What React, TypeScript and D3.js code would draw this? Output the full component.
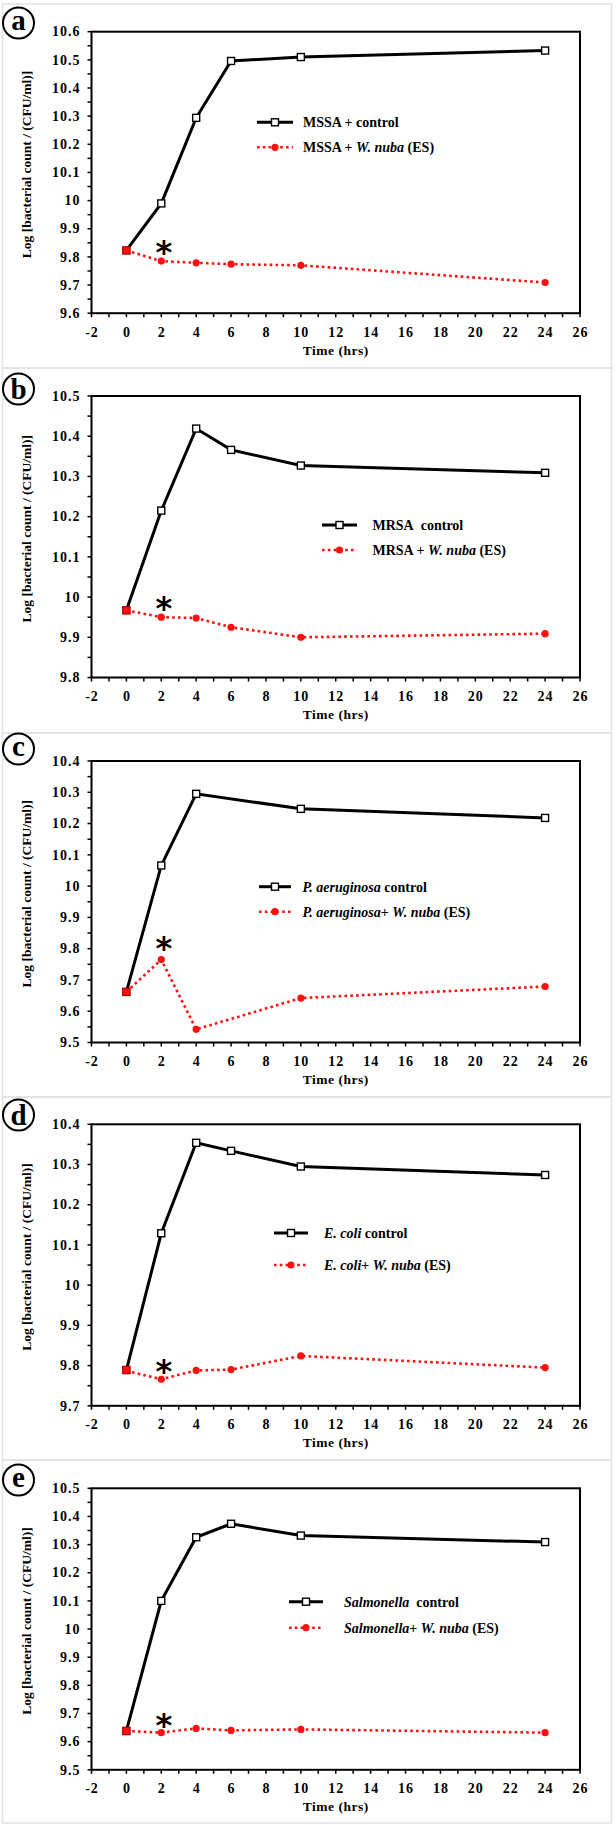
import React from "react";
import * as d3 from "d3";

// ---------- data ----------
const times6 = [0, 2, 4, 6, 10, 24];
const times5 = [0, 2, 4, 10, 24];

const mssaControl = [9.823, 9.99, 10.294, 10.496, 10.51, 10.533];
const mssaTreated = [9.823, 9.785, 9.779, 9.774, 9.77, 9.709];

const mrsaControl = [9.967, 10.215, 10.419, 10.366, 10.327, 10.309];
const mrsaTreated = [9.967, 9.95, 9.948, 9.925, 9.9, 9.909];

const paerControl = [9.662, 10.066, 10.295, 10.247, 10.218];
const paerTreated = [9.662, 9.765, 9.542, 9.642, 9.679];

const ecoliControl = [9.789, 10.129, 10.354, 10.334, 10.295, 10.274];
const ecoliTreated = [9.787, 9.766, 9.788, 9.79, 9.824, 9.795];

const salmControl = [9.638, 10.1, 10.326, 10.374, 10.332, 10.309];
const salmTreated = [9.638, 9.632, 9.647, 9.64, 9.6435, 9.632];

const yDomains: [number, number][] = [
  [9.6, 10.6],
  [9.8, 10.5],
  [9.5, 10.4],
  [9.7, 10.4],
  [9.5, 10.5],
];
const xDomain: [number, number] = [-2, 26];
const xTickLabels = [-2, 0, 2, 4, 6, 8, 10, 12, 14, 16, 18, 20, 22, 24, 26];
const panelLetters = ["a", "b", "c", "d", "e"];
const asteriskValues = [9.8425, 9.992, 9.826, 9.806, 9.687];
const asteriskTime = 2.15;

type Seg = [string, boolean];
const legendControl: Seg[][] = [
  [["MSSA + control", false]],
  [["MRSA\u00a0\u00a0control", false]],
  [["P. aeruginosa", true], [" control", false]],
  [["E. coli", true], [" control", false]],
  [["Salmonella", true], ["\u00a0 control", false]],
];
const legendTreated: Seg[][] = [
  [["MSSA + ", false], ["W. nuba", true], [" (ES)", false]],
  [["MRSA + ", false], ["W. nuba", true], [" (ES)", false]],
  [["P. aeruginosa", true], ["+ ", false], ["W. nuba", true], [" (ES)", false]],
  [["E. coli", true], ["+ ", false], ["W. nuba", true], [" (ES)", false]],
  [["Salmonella", true], ["+ ", false], ["W. nuba", true], [" (ES)", false]],
];

const seriesTimes = [times6, times6, times5, times6, times6];
const controls = [mssaControl, mrsaControl, paerControl, ecoliControl, salmControl];
const treated = [mssaTreated, mrsaTreated, paerTreated, ecoliTreated, salmTreated];

// ---------- layout ----------
const W = 616;
const H = 1825;
const X0 = 91.5;
const X1 = 580;
const PLOT_H = 281.5;
const plotTops = [31.7, 396, 761, 1124.3, 1488.3];
const panelLines = [4, 368, 733, 1097, 1460, 1823];
const circleCY = [23, 389, 749, 1115, 1480];
const legendLayout = [
  { x1: 257, x2: 293, r1: 90.6, r2: 115.6, tx: 303 },
  { x1: 322, x2: 357, r1: 129, r2: 154, tx: 372.5 },
  { x1: 259, x2: 291, r1: 125.7, r2: 150.7, tx: 302.5 },
  { x1: 274, x2: 308, r1: 108.7, r2: 140.7, tx: 324 },
  { x1: 289, x2: 323, r1: 113.4, r2: 139.4, tx: 344 },
];

const SERIF = "'Liberation Serif', 'Times New Roman', serif";
const RED = "#ff1010";

function fmt(v: number) {
  return String(+v.toFixed(1));
}

function Panel({ i }: { i: number }) {
  const top = plotTops[i];
  const bottom = top + PLOT_H;
  const x = d3.scaleLinear().domain(xDomain).range([X0, X1]);
  const y = d3.scaleLinear().domain(yDomains[i]).range([bottom, top]);
  const [lo, hi] = yDomains[i];
  const nMinor = Math.round((hi - lo) / 0.05);
  const yMinor = d3.range(nMinor + 1).map((k) => lo + k * 0.05);
  const nMajor = Math.round((hi - lo) / 0.1);
  const yMajor = d3.range(nMajor + 1).map((k) => lo + k * 0.1);
  const xMinor = d3.range(xDomain[0], xDomain[1] + 1, 1);

  const t = seriesTimes[i];
  const ctrl = t.map((tt, k) => [tt, controls[i][k]] as [number, number]);
  const trt = t.map((tt, k) => [tt, treated[i][k]] as [number, number]);
  const line = d3
    .line<[number, number]>()
    .x((d) => x(d[0]))
    .y((d) => y(d[1]));

  const L = legendLayout[i];
  const lr1 = top + L.r1;
  const lr2 = top + L.r2;
  const letter = panelLetters[i];
  const tall = letter === "b" || letter === "d";
  const cy = circleCY[i];
  const midY = (top + bottom) / 2 - 8;

  const renderSegs = (segs: Seg[]) =>
    segs.map((s, k) => (
      <tspan key={k} fontStyle={s[1] ? "italic" : "normal"}>
        {s[0]}
      </tspan>
    ));

  return (
    <g>
      <rect
        x={2.5}
        y={panelLines[i]}
        width={609}
        height={panelLines[i + 1] - panelLines[i]}
        fill="none"
        stroke="#e2e2e2"
        strokeWidth={1.5}
      />
      {/* panel letter */}
      <circle cx={18.5} cy={cy} r={15.5} fill="white" stroke="black" strokeWidth={2} />
      <text
        x={18.5}
        y={cy + (tall ? 9.5 : 6.8)}
        textAnchor="middle"
        fontFamily={SERIF}
        fontWeight="bold"
        fontSize={29}
      >
        {letter}
      </text>

      {/* y ticks */}
      {yMinor.map((v, k) => (
        <line key={"ym" + k} x1={X0 - 4} x2={X0} y1={y(v)} y2={y(v)} stroke="black" strokeWidth={1.5} />
      ))}
      {yMajor.map((v, k) => (
        <text
          key={"yl" + k}
          x={80.5}
          y={y(v) + 4.7}
          textAnchor="end"
          fontFamily={SERIF}
          fontWeight="bold"
          fontSize={14}
          letterSpacing={1}
        >
          {fmt(v)}
        </text>
      ))}
      {/* x ticks */}
      {xMinor.map((v, k) => (
        <line key={"xm" + k} x1={x(v)} x2={x(v)} y1={bottom} y2={bottom + 4} stroke="black" strokeWidth={1.5} />
      ))}
      {xTickLabels.map((v, k) => (
        <text
          key={"xl" + k}
          x={x(v) + 0.5}
          y={bottom + 23.3}
          textAnchor="middle"
          fontFamily={SERIF}
          fontWeight="bold"
          fontSize={14}
          letterSpacing={1}
        >
          {v}
        </text>
      ))}
      <text
        x={(X0 + X1) / 2}
        y={bottom + 41.5}
        textAnchor="middle"
        fontFamily={SERIF}
        fontWeight="bold"
        fontSize={13.5}
        letterSpacing={0.5}
      >
        Time (hrs)
      </text>
      <text
        transform={`translate(31,${midY}) rotate(-90)`}
        textAnchor="middle"
        fontFamily={SERIF}
        fontWeight="bold"
        fontSize={13.5}
      >
        Log [bacterial count / (CFU/ml)]
      </text>

      {/* frame */}
      <rect x={X0} y={top} width={X1 - X0} height={PLOT_H} fill="none" stroke="black" strokeWidth={2} />

      {/* series */}
      <path d={line(ctrl) || ""} fill="none" stroke="black" strokeWidth={3} />
      <path d={line(trt) || ""} fill="none" stroke={RED} strokeWidth={2.6} strokeDasharray="2.6,3.2" />
      {ctrl.slice(1).map((d, k) => (
        <rect
          key={"cm" + k}
          x={x(d[0]) - 3.5}
          y={y(d[1]) - 3.5}
          width={7}
          height={7}
          fill="white"
          stroke="black"
          strokeWidth={1.4}
        />
      ))}
      {trt.slice(1).map((d, k) => (
        <circle key={"tm" + k} cx={x(d[0])} cy={y(d[1])} r={3.6} fill={RED} />
      ))}
      <rect
        x={x(ctrl[0][0]) - 3.7}
        y={y(ctrl[0][1]) - 3.7}
        width={7.4}
        height={7.4}
        fill={RED}
        stroke="#b00000"
        strokeWidth={1.2}
      />

      {/* asterisk */}
      <text
        x={x(asteriskTime)}
        y={y(asteriskValues[i]) + 18.5}
        textAnchor="middle"
        fontFamily="'DejaVu Sans', sans-serif"
        fontWeight="bold"
        fontSize={32}
      >
        *
      </text>

      {/* legend */}
      <line x1={L.x1} x2={L.x2} y1={lr1} y2={lr1} stroke="black" strokeWidth={3} />
      <rect x={(L.x1 + L.x2) / 2 - 3.5} y={lr1 - 3.5} width={7} height={7} fill="white" stroke="black" strokeWidth={1.4} />
      <text x={L.tx} y={lr1 + 5} fontFamily={SERIF} fontWeight="bold" fontSize={14}>
        {renderSegs(legendControl[i])}
      </text>
      <line
        x1={L.x1}
        x2={L.x2}
        y1={lr2}
        y2={lr2}
        stroke={RED}
        strokeWidth={2.6}
        strokeDasharray="2.6,3.2"
      />
      <circle cx={(L.x1 + L.x2) / 2} cy={lr2} r={3.6} fill={RED} />
      <text x={L.tx} y={lr2 + 5} fontFamily={SERIF} fontWeight="bold" fontSize={14}>
        {renderSegs(legendTreated[i])}
      </text>
    </g>
  );
}

export default function App() {
  return (
    <svg
      width={W}
      height={H}
      viewBox={`0 0 ${W} ${H}`}
      style={{ position: "absolute", left: 0, top: 0, background: "white" }}
    >
      <rect x={0} y={0} width={W} height={H} fill="white" />
      {[0, 1, 2, 3, 4].map((i) => (
        <Panel key={i} i={i} />
      ))}
    </svg>
  );
}
